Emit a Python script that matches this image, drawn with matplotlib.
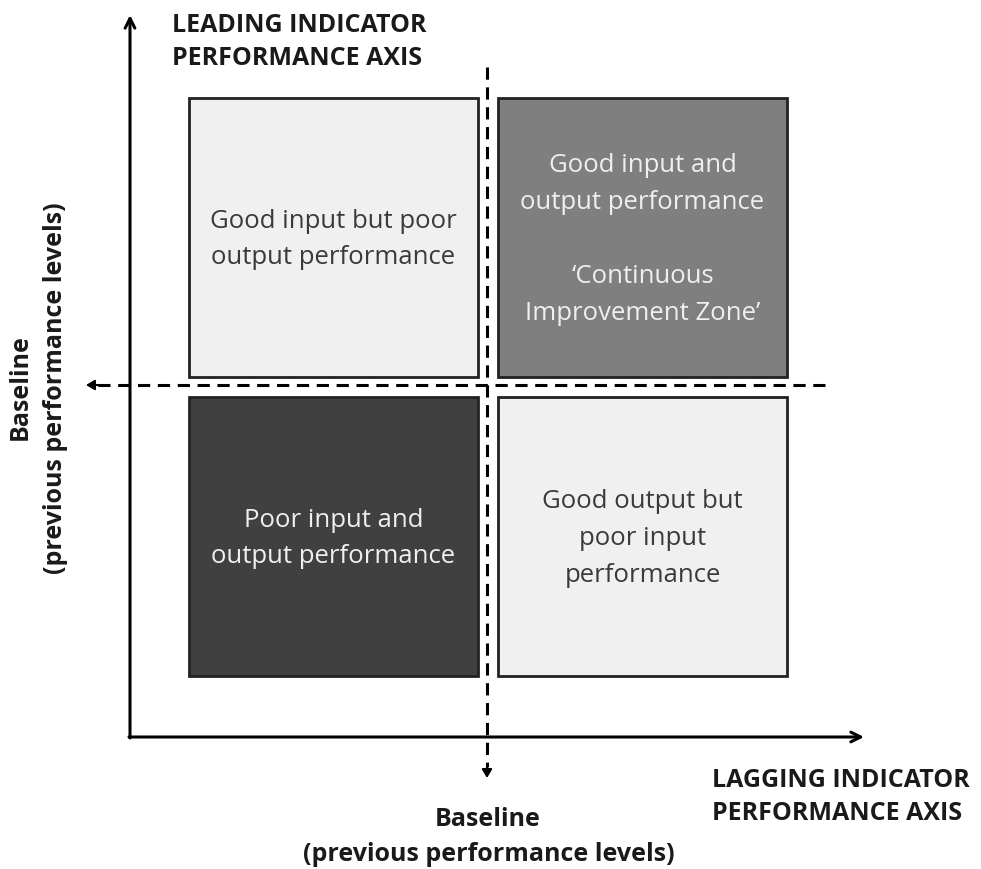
import matplotlib
matplotlib.use("Agg")
import matplotlib.pyplot as plt
from matplotlib.patches import Rectangle

# Data
quadrant_labels = [
    "Good input but poor\noutput performance",
    "Good input and\noutput performance\n\n\u2018Continuous\nImprovement Zone\u2019",
    "Poor input and\noutput performance",
    "Good output but\npoor input\nperformance",
]
quadrant_cols = [0, 1, 0, 1]
quadrant_rows = [0, 0, 1, 1]
quadrant_fill = ["#f0f0f0", "#7f7f7f", "#404040", "#f0f0f0"]
quadrant_text = ["#3a3a3a", "#efefef", "#efefef", "#3a3a3a"]
y_axis_title = "LEADING INDICATOR\nPERFORMANCE AXIS"
x_axis_title = "LAGGING INDICATOR\nPERFORMANCE AXIS"
baseline_bold = "Baseline"
baseline_sub = "(previous performance levels)"

plt.rcParams['font.family'] = ['Open Sans', 'DejaVu Sans']

W, H = 981, 870
fig = plt.figure(figsize=(W / 100, H / 100), dpi=100)
ax = fig.add_axes([0, 0, 1, 1])
ax.set_xlim(0, W)
ax.set_ylim(H, 0)
ax.axis("off")

# boxes
col_x = [189, 498]
row_y = [99, 398]
bw, bh = 289, 279
for lab, c, r, fc, tc in zip(quadrant_labels, quadrant_cols, quadrant_rows,
                             quadrant_fill, quadrant_text):
    x0, y0 = col_x[c], row_y[r]
    ax.add_patch(Rectangle((x0, y0), bw, bh, facecolor=fc, edgecolor="#222222",
                           linewidth=2, zorder=2))
    ax.text(x0 + bw / 2, y0 + bh / 2 + 1, lab, ha="center", va="center",
            color=tc, fontsize=18.5, linespacing=1.62, zorder=3)

# solid axes
arrow_kw = dict(arrowstyle="->,head_length=0.7,head_width=0.35", lw=2.2, color="black",
                shrinkA=0, shrinkB=0)
ax.annotate("", xy=(130, 16), xytext=(130, 739), arrowprops=arrow_kw)
ax.annotate("", xy=(864, 738), xytext=(129, 738), arrowprops=arrow_kw)

# dashed baselines
dash_kw = dict(color="black", lw=2.2, linestyle=(0, (4, 2.5)), zorder=1)
ax.plot([487, 487], [68, 768], **dash_kw)
ax.plot([825, 97], [386, 386], **dash_kw)
head_kw = dict(arrowstyle="-|>,head_length=0.5,head_width=0.3", lw=1.5, color="black",
               shrinkA=0, shrinkB=0)
ax.annotate("", xy=(487, 779), xytext=(487, 766), arrowprops=head_kw)
ax.annotate("", xy=(86, 386), xytext=(99, 386), arrowprops=head_kw)

# axis titles
ax.text(172, 42, y_axis_title, ha="left", va="center", fontsize=18,
        fontweight="bold", color="#1a1a1a", linespacing=1.45)
ax.text(712, 797, x_axis_title, ha="left", va="center", fontsize=18,
        fontweight="bold", color="#1a1a1a", linespacing=1.45)

ax.text(488, 820, baseline_bold, ha="center", va="center", fontsize=18,
        fontweight="bold", color="#1a1a1a")
ax.text(489, 855, baseline_sub, ha="center", va="center", fontsize=18,
        fontweight="bold", color="#1a1a1a")

ax.text(20, 387, baseline_bold, ha="center", va="center", fontsize=18,
        fontweight="bold", color="#1a1a1a", rotation=90)
ax.text(56, 388, baseline_sub, ha="center", va="center", fontsize=18,
        fontweight="bold", color="#1a1a1a", rotation=90)

fig.savefig("out.png", dpi=100, facecolor="white")
